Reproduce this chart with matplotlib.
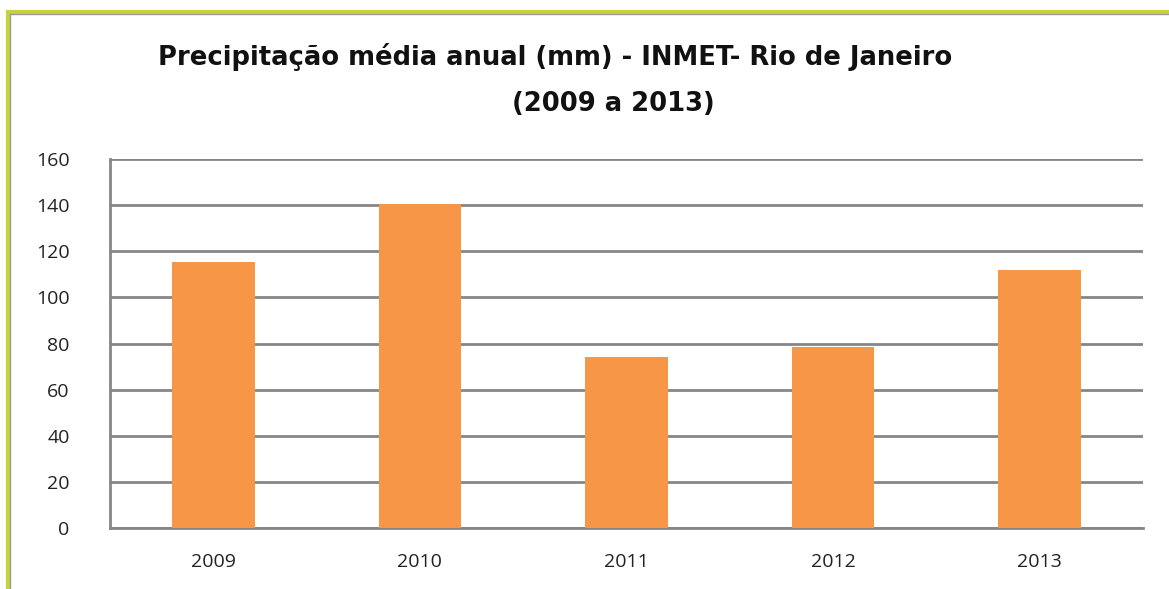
import matplotlib

matplotlib.use("Agg")
import matplotlib.pyplot as plt
from matplotlib.patches import Rectangle

years = ["2009", "2010", "2011", "2012", "2013"]
precip = [115.5, 140.5, 74.3, 78.6, 111.9]
yticks = [0, 20, 40, 60, 80, 100, 120, 140, 160]

ORANGE = "#F79646"
GRID = "#868686"

plt.rcParams["font.family"] = ["Open Sans", "DejaVu Sans"]

fig = plt.figure(figsize=(11.69, 5.89), dpi=100)
W, H = 1169, 589

# frame of the chart object (only top and left edges are visible)
fig.patches.append(Rectangle((8 / W, -0.2), 1.3, 1.2 - 12 / H,
                             transform=fig.transFigure, fill=False,
                             edgecolor="#C8D23A", linewidth=3, zorder=0))
fig.patches.append(Rectangle((10 / W, -0.2), 1.3, 1.2 - 14 / H,
                             transform=fig.transFigure, fill=False,
                             edgecolor="#9A9A9A", linewidth=1, zorder=0))

left, right = 110 / W, 1143 / W
bottom, top = 1 - 527.7 / H, 1 - 159.3 / H
ax = fig.add_axes([left, bottom, right - left, top - bottom])

xs = range(len(years))
ax.bar(xs, precip, width=0.4, color=ORANGE, zorder=3)

ax.set_xlim(-0.5, len(years) - 0.5)
ax.set_ylim(0, 160)
ax.set_yticks(yticks)
ax.set_yticklabels([str(v) for v in yticks])
ax.set_xticks(list(xs))
ax.set_xticklabels(years)
ax.yaxis.grid(True, color=GRID, linewidth=2.0, zorder=1)
ax.set_axisbelow(True)

for s in ["top", "right"]:
    ax.spines[s].set_visible(False)
ax.spines["left"].set_color(GRID)
ax.spines["left"].set_linewidth(2.0)
ax.spines["bottom"].set_color(GRID)
ax.spines["bottom"].set_linewidth(2.0)
ax.tick_params(axis="both", length=0, labelsize=14, colors="#222222")
ax.tick_params(axis="y", pad=29)
ax.tick_params(axis="x", pad=18)

title_font = dict(ha="center", va="center", fontsize=18.6, fontweight="bold",
                  color="#111111", family=["DejaVu Sans"])
fig.text(555 / W, 1 - 57 / H,
         "Precipitação média anual (mm) - INMET- Rio de Janeiro", **title_font)
fig.text(613 / W, 1 - 104 / H, "(2009 a 2013)", **title_font)

fig.savefig("out.png", dpi=100, facecolor="white")
